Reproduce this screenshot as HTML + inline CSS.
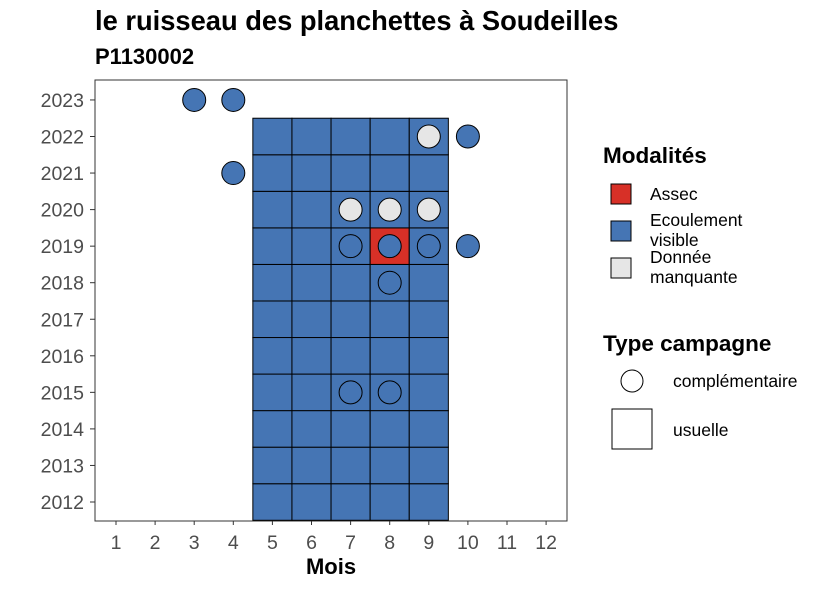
<!DOCTYPE html>
<html><head><meta charset="utf-8"><style>
body{margin:0;background:#fff;}
svg text{font-family:"Liberation Sans",sans-serif;}
</style></head><body>
<svg id="chart" width="826" height="590" xmlns="http://www.w3.org/2000/svg">
<text x="95" y="30" font-size="27.3" font-weight="bold">le ruisseau des planchettes à Soudeilles</text>
<text x="95" y="64" font-size="22" font-weight="bold">P1130002</text>
<rect x="95" y="80" width="472" height="441" fill="#fff" stroke="#333" stroke-width="1"/>
<g id="tiles"></g><g id="points"></g><g id="axes"></g>
<text x="331" y="574" font-size="22" font-weight="bold" text-anchor="middle">Mois</text>
<g>
<text x="603" y="163" font-size="22.5" font-weight="bold">Modalités</text>
<rect x="611" y="184" width="20" height="20" fill="#d73027" stroke="#000"/>
<text x="650" y="200" font-size="17.5">Assec</text>
<rect x="611" y="221" width="20" height="20" fill="#4575b4" stroke="#000"/>
<text x="650" y="226" font-size="17.5">Ecoulement</text>
<text x="650" y="246" font-size="17.5">visible</text>
<rect x="611" y="258" width="20" height="20" fill="#e6e6e6" stroke="#000"/>
<text x="650" y="263" font-size="17.5">Donnée</text>
<text x="650" y="283" font-size="17.5">manquante</text>
</g>
<g>
<text x="603" y="351" font-size="22.5" font-weight="bold">Type campagne</text>
<circle cx="632" cy="381" r="11" fill="#fff" stroke="#000"/>
<text x="673" y="387" font-size="17.5">complémentaire</text>
<rect x="612" y="409" width="40" height="40" fill="#fff" stroke="#000"/>
<text x="673" y="436" font-size="17.5">usuelle</text>
</g>
</svg>
<script>
const months = [1,2,3,4,5,6,7,8,9,10,11,12];
const years = [2012,2013,2014,2015,2016,2017,2018,2019,2020,2021,2022,2023];
const tileMonths = [5,6,7,8,9];
const tileYears = [2012,2013,2014,2015,2016,2017,2018,2019,2020,2021,2022];
const assecTiles = [[8,2019]];
const pointMonths = [3,4,9,10,4,7,8,9,7,8,9,10,8,7,8];
const pointYears = [2023,2023,2022,2022,2021,2020,2020,2020,2019,2019,2019,2019,2018,2015,2015];
const pointStatus = ["E","E","M","E","E","M","M","M","E","E","E","E","E","E","E"];
const colors = {A:"#d73027",E:"#4575b4",M:"#e6e6e6"};
const NS="http://www.w3.org/2000/svg";
const xs = m => 116 + (m-1)*39.1;
const ys = y => 502 - (y-2012)*36.55;
const tw=39.1, th=36.55;
const tg=document.getElementById('tiles'), pg=document.getElementById('points'), ag=document.getElementById('axes');
function mk(t,a){const e=document.createElementNS(NS,t);for(const k in a)e.setAttribute(k,a[k]);return e;}
tileMonths.forEach(m=>tileYears.forEach(y=>{
  const isA=assecTiles.some(t=>t[0]===m&&t[1]===y);
  const r=mk('rect',{x:xs(m)-tw/2,y:ys(y)-th/2,width:tw,height:th,fill:isA?colors.A:colors.E,stroke:'#000','stroke-width':1});
  
  
  tg.appendChild(r);
}));
pointMonths.forEach((m,i)=>{
  const c=mk('circle',{cx:xs(m),cy:ys(pointYears[i]),r:11.5,fill:colors[pointStatus[i]],stroke:'#000','stroke-width':1});
  
  
  pg.appendChild(c);
});
months.forEach(m=>{
  ag.appendChild(mk('line',{x1:xs(m),x2:xs(m),y1:521,y2:525,stroke:'#333'}));
  const t=mk('text',{x:xs(m),y:549,'font-size':19.5,fill:'#4d4d4d','text-anchor':'middle'});
  t.textContent=m;
  
  
  ag.appendChild(t);
});
years.forEach(y=>{
  ag.appendChild(mk('line',{x1:90,x2:95,y1:ys(y),y2:ys(y),stroke:'#333'}));
  const t=mk('text',{x:84,y:ys(y)+7,'font-size':19.5,fill:'#4d4d4d','text-anchor':'end'});
  t.textContent=y;
  
  
  ag.appendChild(t);
});
</script>
</body></html>
